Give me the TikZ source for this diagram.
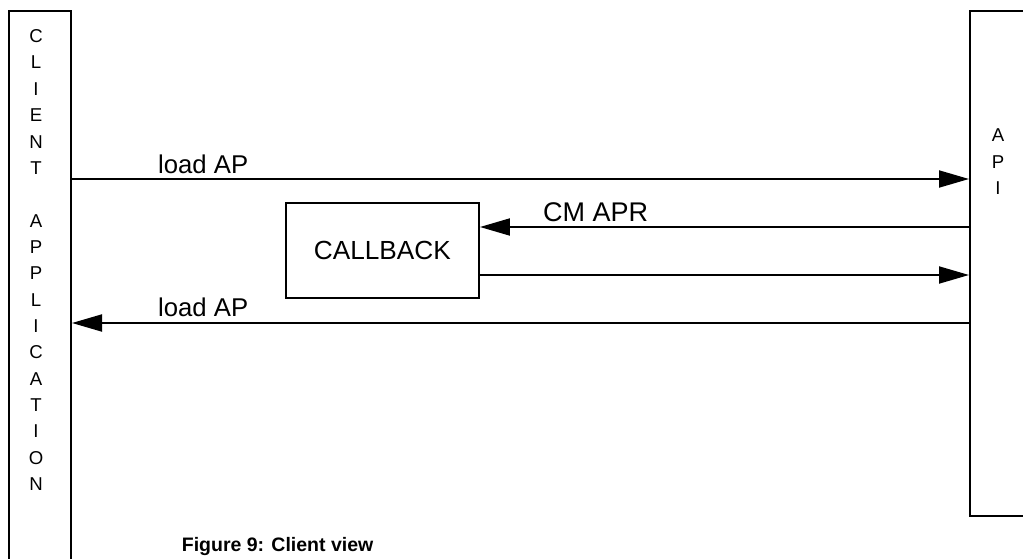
\documentclass[tikz,border=0pt]{standalone}
\usepackage{fontspec}
\setmainfont{Liberation Sans}
\usetikzlibrary{arrows.meta}
\begin{document}
\begin{tikzpicture}[x=1pt,y=-1pt,
  lane/.style={draw,line width=2pt,inner sep=0pt},
  procbox/.style={draw,line width=1.9pt,inner sep=0pt,
    font=\fontsize{26.2}{30}\selectfont},
  vletter/.style={inner sep=0pt,anchor=base,font=\fontsize{18.6}{22}\selectfont},
  msglabel/.style={inner sep=0pt,anchor=base west,font=\fontsize{25.7}{30}\selectfont},
  msg/.style={line width=1.9pt,-{Triangle[length=30pt,width=17pt]}},
  caption/.style={inner sep=0pt,anchor=base west,font=\bfseries\fontsize{19.5}{24}\selectfont}]
\useasboundingbox (0,0) rectangle (1023,559);
\clip (0,0) rectangle (1023,559);

% lifelines
\node[lane,minimum width=62pt,minimum height=569pt] (client) at (40,295.5) {};
\node[lane,minimum width=80pt,minimum height=504.5pt] (api) at (1010,263.25) {};
\node[procbox,minimum width=193.3pt,minimum height=95pt] (callback) at (382.35,250.8) {CALLBACK\hspace{11pt}};

% vertical captions of the two lifelines
\foreach \k/\ch in {0/C,1/L,2/I,3/E,4/N,5/T,7/A,8/P,9/P,10/L,11/I,12/C,13/A,14/T,15/I,16/O,17/N}
  \node[vletter] (cv\k) at (36,42.65+\k*26.35) {\ch};
\foreach \k/\ch in {0/A,1/P,2/I}
  \node[vletter] (av\k) at (998,141.65+\k*26.4) {\ch};

% messages
\draw[msg] (client.east |- 0,179) -- (api.west |- 0,179);
\draw[msg] (api.west |- 0,227) -- (callback.east |- 0,227);
\draw[msg] (callback.east |- 0,275) -- (api.west |- 0,275);
\draw[msg] (api.west |- 0,323) -- (client.east |- 0,323);

\node[msglabel] (lbl1) at (158,173) {load AP};
\node[msglabel,font=\fontsize{27}{30}\selectfont] (lbl2) at (543,221) {CM APR};
\node[msglabel] (lbl3) at (158,316.7) {load AP};

\node[caption] (fig) at (181.7,551.7) {Figure 9: Client view};
\end{tikzpicture}
\end{document}
